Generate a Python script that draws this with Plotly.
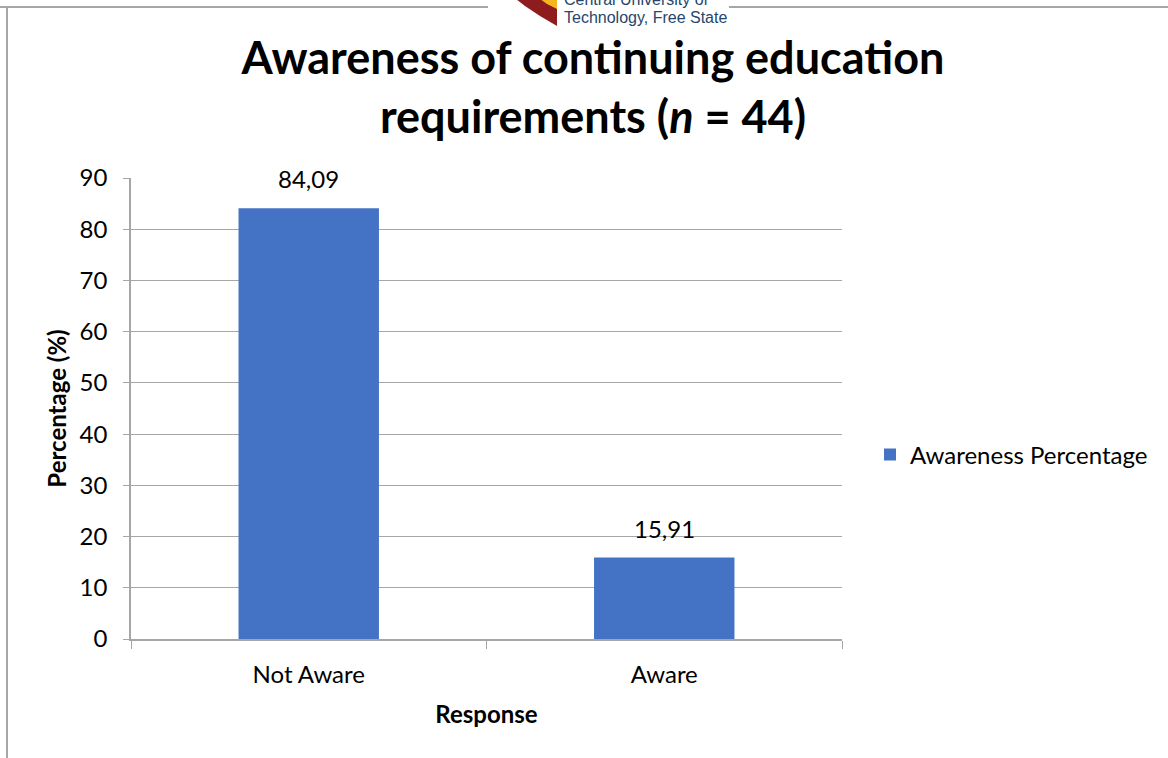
import plotly.graph_objects as go

# Survey results
categories = ["Not Aware", "Aware"]
percentages = [84.09, 15.91]
series_name = "Awareness Percentage"
y_ticks = [0, 10, 20, 30, 40, 50, 60, 70, 80, 90]

W, H = 1168, 758
L, R, T, B = 131, 842, 178, 639  # plot area in pixels


def px(x):
    return (x - L) / (R - L)


def py(y):
    return (B - y) / (B - T)


FONT = "Lato, 'Open Sans', sans-serif"
BAR = "#4472c4"
GRID = "#a6a6a6"
FS = 24

fig = go.Figure()
fig.add_trace(go.Bar(
    x=categories,
    y=percentages,
    name=series_name,
    marker=dict(color=BAR, line=dict(width=0)),
    width=0.395,
    showlegend=True,
))

# value labels above each bar
for c, v in zip(categories, percentages):
    fig.add_annotation(
        x=c, y=v, xref="x", yref="y",
        text=f"{v:.2f}".replace(".", ","),
        showarrow=False, yanchor="bottom", yshift=13,
        font=dict(family=FONT, size=FS, color="#000000"),
    )

shapes = [
    # outer frame pieces
    dict(type="line", xref="paper", yref="paper",
         x0=px(0), x1=px(488), y0=py(7), y1=py(7),
         line=dict(color=GRID, width=2)),
    dict(type="line", xref="paper", yref="paper",
         x0=px(729), x1=px(1168), y0=py(7), y1=py(7),
         line=dict(color=GRID, width=2)),
    dict(type="line", xref="paper", yref="paper",
         x0=px(7), x1=px(7), y0=py(7), y1=py(760),
         line=dict(color=GRID, width=2)),
]

# university emblem (partial)
red_pts = [(512, -4), (557, -4), (557, 26), (540, 16), (525, 6)]
yel_pts = [(536, -4), (557, -4), (557, 9), (547, 4)]


def path(pts):
    return "M " + " L ".join(f"{px(x)},{py(y)}" for x, y in pts) + " Z"


shapes.append(dict(type="path", xref="paper", yref="paper", path=path(red_pts),
                   fillcolor="#8e1b1e", line=dict(width=0)))
shapes.append(dict(type="path", xref="paper", yref="paper", path=path(yel_pts),
                   fillcolor="#f3b61f", line=dict(width=0)))

LOGO_FONT = dict(family="'Liberation Sans', Arial, sans-serif", size=16, color="#27466b")
fig.add_annotation(x=px(562), y=py(17), xref="paper", yref="paper",
                   text="Technology, Free State", showarrow=False,
                   xanchor="left", yanchor="middle", font=LOGO_FONT)
fig.add_annotation(x=px(562), y=py(-1), xref="paper", yref="paper",
                   text="Central University of", showarrow=False,
                   xanchor="left", yanchor="middle", font=LOGO_FONT)

fig.update_layout(
    width=W, height=H,
    margin=dict(l=L, r=W - R, t=T, b=H - B),
    paper_bgcolor="white",
    plot_bgcolor="white",
    separators=",.",
    font=dict(family=FONT, size=FS, color="#000000"),
    title=dict(
        text="<b>Awareness of continuing education<br>requirements (<i>n</i> = 44)</b>",
        x=593 / W, xanchor="center",
        y=1 - 74 / H, yanchor="middle",
        font=dict(family=FONT, size=45, color="#000000"),
    ),
    shapes=shapes,
    bargap=0.6,
    legend=dict(
        x=px(870), y=py(455), xanchor="left", yanchor="middle",
        font=dict(family=FONT, size=FS, color="#000000"),
        bgcolor="rgba(0,0,0,0)",
        itemwidth=30,
    ),
    xaxis=dict(
        type="category",
        showline=True, linecolor=GRID, linewidth=1.5,
        ticks="outside", tickson="boundaries", ticklen=8, tickcolor=GRID,
        ticklabelstandoff=13,
        tickfont=dict(family=FONT, size=FS),
        title=dict(text="<b>Response</b>", font=dict(family=FONT, size=FS), standoff=20),
        showgrid=False,
    ),
    yaxis=dict(
        range=[0, 90], tickvals=y_ticks,
        showgrid=True, gridcolor=GRID, gridwidth=1.2,
        showline=True, linecolor=GRID, linewidth=1.5,
        ticks="outside", ticklen=6, tickcolor=GRID,
        ticklabelstandoff=11,
        tickfont=dict(family=FONT, size=FS),
        title=dict(text="<b>Percentage (%)</b>", font=dict(family=FONT, size=24), standoff=6),
        zeroline=False,
    ),
)

fig.write_html("out.html")
